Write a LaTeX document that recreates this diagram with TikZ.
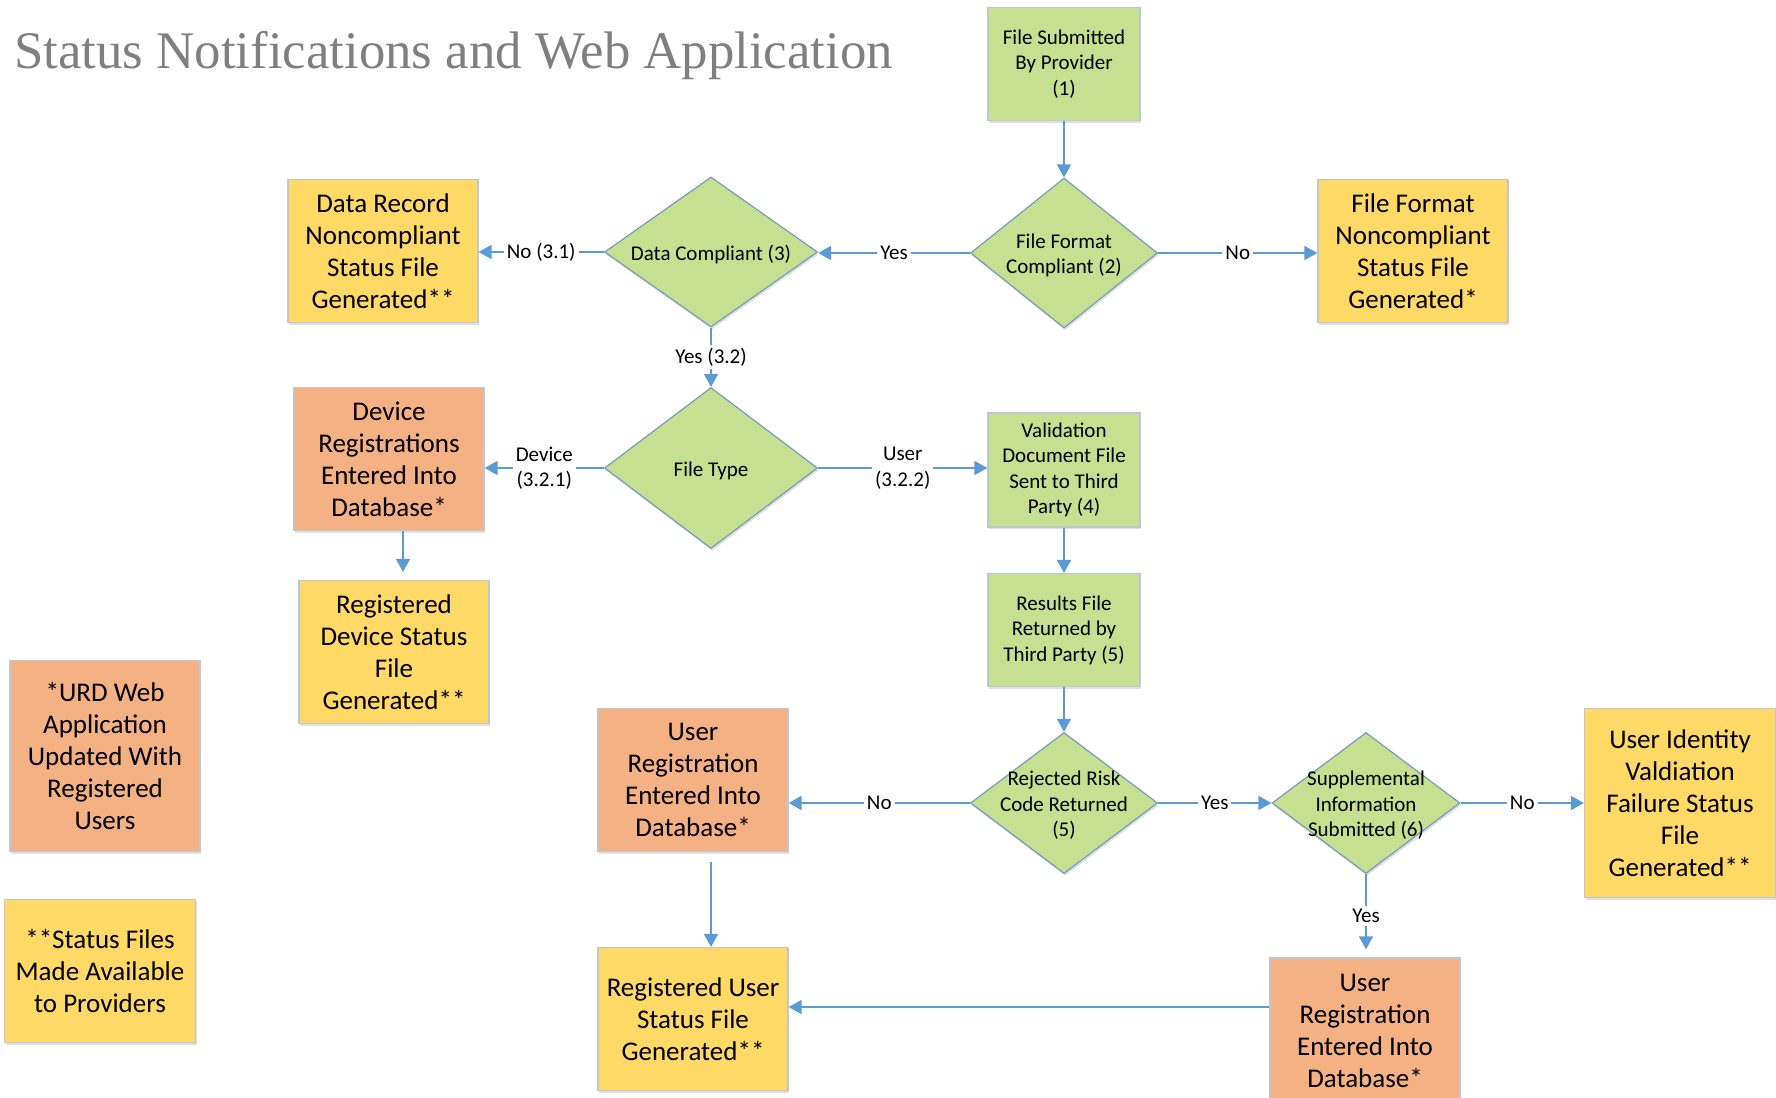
\documentclass[tikz,border=0pt]{standalone}
\usepackage{fontspec}
\setmainfont{Carlito}
\newfontfamily\titlefont{Liberation Serif}
\usetikzlibrary{shapes.geometric,arrows.meta,shadows}
\definecolor{procgreen}{RGB}{197,224,144}
\definecolor{filegold}{RGB}{255,217,102}
\definecolor{dbpeach}{RGB}{244,177,131}
\definecolor{linkblue}{RGB}{91,155,213}
\definecolor{boxedge}{RGB}{191,198,208}
\definecolor{diaedge}{RGB}{118,156,188}
\definecolor{titlegray}{RGB}{127,127,127}
\newcommand{\diatext}[1]{\makebox[0pt]{\smash{\raisebox{-0.4em}{\begin{tabular}{@{}c@{}}#1\end{tabular}}}}}
\tikzset{
    softshadow/.style={drop shadow={shadow xshift=0.6pt,shadow yshift=-1.2pt,fill=black!40,opacity=0.3}},
    procbox/.style={rectangle,draw=boxedge,line width=0.6pt,fill=procgreen,softshadow,
        minimum width=76pt,minimum height=56.5pt,inner sep=1pt,align=center,
        font=\fontsize{10.5}{12.75}\selectfont},
    filebox/.style={rectangle,draw=boxedge,line width=0.6pt,fill=filegold,softshadow,
        minimum width=95pt,minimum height=71.5pt,inner sep=1pt,align=center,
        font=\fontsize{13.5}{16}\selectfont},
    dbbox/.style={filebox,fill=dbpeach},
    decision/.style={diamond,draw=diaedge,line width=0.6pt,fill=procgreen,softshadow,
        inner sep=0pt,font=\fontsize{10.5}{12.75}\selectfont},
    flow/.style={draw=linkblue,line width=0.9pt,-{Triangle[length=6.5pt,width=7pt]}},
    flowlabel/.style={fill=white,inner sep=1.5pt,align=center,
        font=\fontsize{10.5}{12.75}\selectfont}
}
\begin{document}
\begin{tikzpicture}[x=0.5pt,y=-0.5pt]
                    \useasboundingbox (0,0) rectangle (1776,1097);
                    \node[anchor=base west,inner sep=0pt,text=titlegray,font=\titlefont\fontsize{26.4}{30}\selectfont] (title) at (14,69) {Status Notifications and Web Application};
                    \node[procbox] (submit) at (1064,64) {File Submitted\\By Provider\\(1)};
                    \node[decision,minimum width=93.5pt,minimum height=75pt] (ffcomp) at (1064,253) {\diatext{File Format\\Compliant (2)}};
                    \node[filebox] (ffnon) at (1413,251) {File Format\\Noncompliant\\Status File\\Generated*};
                    \node[decision,minimum width=106.5pt,minimum height=75pt] (dcomp) at (711,252) {\diatext{Data Compliant (3)}};
                    \node[filebox] (drec) at (383,251) {Data Record\\Noncompliant\\Status File\\Generated**};
                    \node[decision,minimum width=106.5pt,minimum height=80.5pt] (ftype) at (711,468) {\diatext{File Type}};
                    \node[dbbox] (devreg) at (389,459) {Device\\Registrations\\Entered Into\\Database*};
                    \node[filebox] (regdev) at (394,652) {Registered\\Device Status\\File\\Generated**};
                    \node[procbox,minimum height=57pt] (valid) at (1064,470) {Validation\\Document File\\Sent to Third\\Party (4)};
                    \node[procbox] (results) at (1064,630) {Results File\\Returned by\\Third Party (5)};
                    \node[decision,minimum width=93.5pt,minimum height=70.5pt] (reject) at (1064,803) {\diatext{Rejected Risk\\Code Returned\\(5)}};
                    \node[decision,minimum width=94pt,minimum height=70.5pt] (supp) at (1366,803) {\diatext{Supplemental\\Information\\Submitted (6)}};
                    \node[filebox,minimum width=95.5pt,minimum height=94.5pt] (uident) at (1680,803) {User Identity\\Valdiation\\Failure Status\\File\\Generated**};
                    \node[dbbox,minimum height=73pt] (uregr) at (1365,1031) {User\\Registration\\Entered Into\\Database*};
                    \node[dbbox] (uregl) at (693,780) {User\\Registration\\Entered Into\\Database*};
                    \node[filebox] (reguser) at (693,1019) {Registered User\\Status File\\Generated**};
                    \node[dbbox,minimum height=95.5pt] (urd) at (105,756) {*URD Web\\Application\\Updated With\\Registered\\Users};
                    \node[filebox,minimum width=95.5pt] (statf) at (100,971) {**Status Files\\Made Available\\to Providers};
                    \draw[flow] (submit) -- (ffcomp);
                    \draw[flow] (ffcomp.east) -- node[flowlabel] {No} (ffcomp.east -| ffnon.west);
                    \draw[flow] (ffcomp.west) -- node[flowlabel] {Yes} (ffcomp.west -| dcomp.east);
                    \draw[flow] (dcomp.west) -- node[flowlabel] {No (3.1)} (dcomp.west -| drec.east);
                    \draw[flow] (dcomp) -- node[flowlabel] {Yes (3.2)} (ftype);
                    \draw[flow] (ftype.west) -- node[flowlabel] {Device\\(3.2.1)} (ftype.west -| devreg.east);
                    \draw[flow] (ftype.east) -- node[flowlabel] {User\\(3.2.2)} (ftype.east -| valid.west);
                    \draw[flow,shorten >=4pt] ([xshift=7pt]devreg.south) -- ([xshift=7pt]devreg.south |- regdev.north);
                    \draw[flow] (valid) -- (results);
                    \draw[flow] (results) -- (reject);
                    \draw[flow] (reject.east) -- node[flowlabel] {Yes} (reject.east -| supp.west);
                    \draw[flow] (supp.east) -- node[flowlabel] {No} (supp.east -| uident.west);
                    \draw[flow,shorten >=4pt] (supp.south) -- node[flowlabel] {Yes} (supp.south |- uregr.north);
                    \draw[flow] (reject.west) -- node[flowlabel] {No} (reject.west -| uregl.east);
                    \draw[flow,shorten <=5pt] ([xshift=9pt]uregl.south) -- ([xshift=9pt]uregl.south |- reguser.north);
                    \draw[flow] ([yshift=12pt]uregr.west) -- ([yshift=12pt]uregr.west -| reguser.east);
                \end{tikzpicture}
\end{document}
